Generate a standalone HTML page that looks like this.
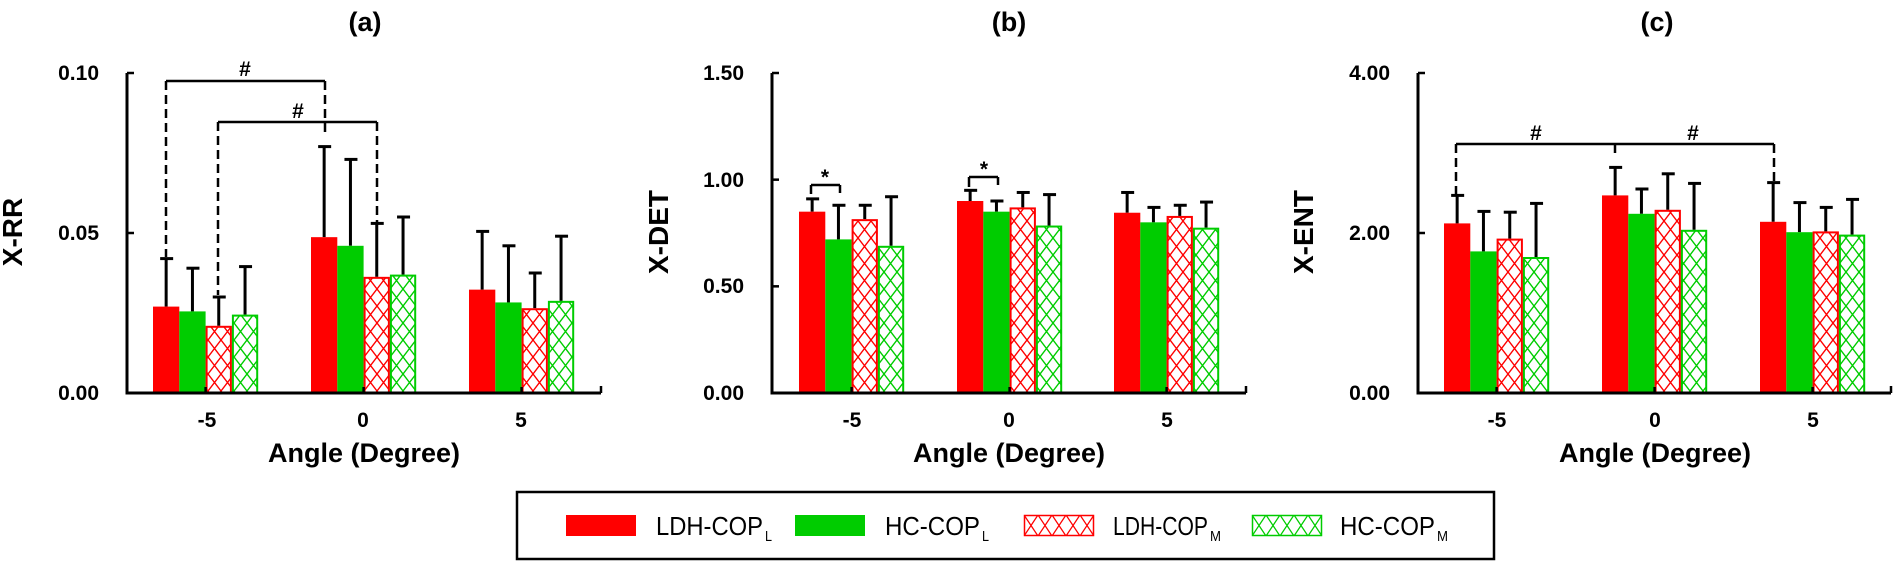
<!DOCTYPE html>
<html><head><meta charset="utf-8"><style>
html,body{margin:0;padding:0;background:#fff;}
svg{display:block;font-family:"Liberation Sans",Arial,sans-serif;font-weight:bold;}
</style></head><body>
<svg id="s" width="1894" height="561" viewBox="0 0 1894 561" xmlns="http://www.w3.org/2000/svg">
<defs>
<pattern id="hr" width="13" height="17" patternUnits="userSpaceOnUse">
<path d="M0,0 L13,17 M13,0 L0,17" stroke="#ff0000" stroke-width="1.4"/>
</pattern>
<pattern id="hg" width="13" height="17" patternUnits="userSpaceOnUse">
<path d="M0,0 L13,17 M13,0 L0,17" stroke="#00cc00" stroke-width="1.4"/>
</pattern>
<pattern id="lr" width="14" height="21" patternUnits="userSpaceOnUse" x="1024" y="515">
<path d="M0,0 L14,21 M14,0 L0,21" stroke="#ff0000" stroke-width="1.3"/>
</pattern>
<pattern id="lg" width="14" height="21" patternUnits="userSpaceOnUse" x="1252" y="515">
<path d="M0,0 L14,21 M14,0 L0,21" stroke="#00cc00" stroke-width="1.3"/>
</pattern>
</defs>
<g id="bars"></g>
<g font-size="27" text-anchor="middle">
<text x="365" y="31">(a)</text>
<text x="1009" y="31">(b)</text>
<text x="1657" y="31">(c)</text>
</g>
<g font-size="21" text-anchor="end">
<text x="99" y="80">0.10</text><text x="99" y="240">0.05</text><text x="99" y="400">0.00</text>
<text x="744" y="80">1.50</text><text x="744" y="187">1.00</text><text x="744" y="293">0.50</text><text x="744" y="400">0.00</text>
<text x="1390" y="80">4.00</text><text x="1390" y="240">2.00</text><text x="1390" y="400">0.00</text>
</g>
<g font-size="28" text-anchor="middle">
<text transform="translate(22,232) rotate(-90)">X-RR</text>
<text transform="translate(668,232) rotate(-90)">X-DET</text>
<text transform="translate(1313,232) rotate(-90)">X-ENT</text>
</g>
<g font-size="21" text-anchor="middle">
<text x="207" y="427">-5</text><text x="363" y="427">0</text><text x="521" y="427">5</text>
<text x="852" y="427">-5</text><text x="1009" y="427">0</text><text x="1167" y="427">5</text>
<text x="1497" y="427">-5</text><text x="1655" y="427">0</text><text x="1813" y="427">5</text>
</g>
<g font-size="27" text-anchor="middle">
<text x="364" y="462">Angle (Degree)</text>
<text x="1009" y="462">Angle (Degree)</text>
<text x="1655" y="462">Angle (Degree)</text>
</g>
<g font-size="21" text-anchor="middle">
<text x="245" y="76">#</text><text x="298" y="118">#</text>
<text x="825" y="184">*</text><text x="984" y="176">*</text>
<text x="1536" y="140">#</text><text x="1693" y="140">#</text>
</g>
<rect x="517" y="492" width="977" height="67" fill="none" stroke="#000" stroke-width="2.5"/>
<rect x="566" y="515" width="70" height="21" fill="#ff0000"/>
<rect x="795" y="515" width="70" height="21" fill="#00cc00"/>
<rect x="1024.5" y="515.5" width="69" height="20" fill="url(#lr)" stroke="#ff0000" stroke-width="1.5"/>
<rect x="1252.5" y="515.5" width="69" height="20" fill="url(#lg)" stroke="#00cc00" stroke-width="1.5"/>
<g font-size="26" font-weight="normal">
<text x="656" y="535" textLength="107" lengthAdjust="spacingAndGlyphs">LDH-COP</text><text x="765" y="541" font-size="15" textLength="7" lengthAdjust="spacingAndGlyphs">L</text>
<text x="885" y="535" textLength="95" lengthAdjust="spacingAndGlyphs">HC-COP</text><text x="982" y="541" font-size="15" textLength="7" lengthAdjust="spacingAndGlyphs">L</text>
<text x="1113" y="535" textLength="95" lengthAdjust="spacingAndGlyphs">LDH-COP</text><text x="1210" y="541" font-size="15" textLength="11" lengthAdjust="spacingAndGlyphs">M</text>
<text x="1340" y="535" textLength="95" lengthAdjust="spacingAndGlyphs">HC-COP</text><text x="1437" y="541" font-size="15" textLength="11" lengthAdjust="spacingAndGlyphs">M</text>
</g>
</svg>
<script>
var g=document.getElementById('bars');var h='';
var y0=393,H=320;
var panels=[
 {ax:127,xe:601,max:0.1,ticks:[0,0.05,0.1],g:[153,311,469],
  v:[[[.027,.042],[.0255,.039],[.021,.030],[.0245,.0395]],[[.0487,.077],[.046,.073],[.0363,.053],[.037,.055]],[[.0323,.0505],[.0283,.046],[.0265,.0375],[.0288,.049]]]},
 {ax:772,xe:1246,max:1.5,ticks:[0,0.5,1,1.5],g:[799,957,1114],
  v:[[[.85,.91],[.72,.88],[.815,.88],[.69,.92]],[[.90,.95],[.85,.90],[.87,.94],[.785,.93]],[[.845,.94],[.80,.87],[.83,.88],[.775,.895]]]},
 {ax:1418,xe:1891,max:4,ticks:[0,2,4],g:[1444,1602,1760],
  v:[[[2.12,2.47],[1.77,2.27],[1.93,2.26],[1.70,2.37]],[[2.47,2.82],[2.24,2.55],[2.29,2.74],[2.04,2.62]],[[2.14,2.63],[2.01,2.38],[2.02,2.32],[1.98,2.42]]]}
];
var bw=26.3;
panels.forEach(function(p){
 function Y(v){return y0-v/p.max*H;}
 p.g.forEach(function(gx,gi){
  p.v[gi].forEach(function(d,k){
   var x=gx+k*bw,y=Y(d[0]),e=Y(d[1]),cx=x+bw/2;
   h+='<line x1="'+cx+'" y1="'+y+'" x2="'+cx+'" y2="'+e+'" stroke="#000" stroke-width="3"/>';
   h+='<line x1="'+(cx-6)+'" y1="'+e+'" x2="'+(cx+7)+'" y2="'+e+'" stroke="#000" stroke-width="3"/>';
   if(k==0)h+='<rect x="'+x+'" y="'+y+'" width="'+bw+'" height="'+(y0-y)+'" fill="#ff0000"/>';
   else if(k==1)h+='<rect x="'+x+'" y="'+y+'" width="'+bw+'" height="'+(y0-y)+'" fill="#00cc00"/>';
   else {var c=k==2?'#ff0000':'#00cc00';h+='<rect x="'+(x+1)+'" y="'+(y+1)+'" width="'+(bw-2)+'" height="'+(y0-y-1)+'" fill="url(#'+(k==2?'hr':'hg')+')" stroke="'+c+'" stroke-width="2"/>';}
  });
  var tc=gx+2*bw;
  h+='<line x1="'+tc+'" y1="'+(y0-6)+'" x2="'+tc+'" y2="'+y0+'" stroke="#000" stroke-width="2.5"/>';
 });
 h+='<line x1="'+p.ax+'" y1="73" x2="'+p.ax+'" y2="'+(y0+1.5)+'" stroke="#000" stroke-width="3"/>';
 h+='<line x1="'+(p.ax-1.5)+'" y1="'+y0+'" x2="'+p.xe+'" y2="'+y0+'" stroke="#000" stroke-width="3"/>';
 h+='<line x1="'+p.xe+'" y1="'+(y0-7)+'" x2="'+p.xe+'" y2="'+y0+'" stroke="#000" stroke-width="2.5"/>';
 p.ticks.forEach(function(t){var y=Y(t);h+='<line x1="'+p.ax+'" y1="'+y+'" x2="'+(p.ax+7)+'" y2="'+y+'" stroke="#000" stroke-width="2.5"/>';});
});
function L(a,b,c,d,dash){h+='<line x1="'+a+'" y1="'+b+'" x2="'+c+'" y2="'+d+'" stroke="#000" stroke-width="2.5"'+(dash?' stroke-dasharray="9,5"':'')+'/>';}
L(166,81,325,81);L(166,81,166,257,1);L(325,81,325,137,1);
L(218,122,377,122);L(218,122,218,295,1);L(377,122,377,222,1);
L(811,185,840,185);L(811,185,811,194);L(840,185,840,193);
L(969,177,998,177);L(969,177,969,187);L(998,177,998,185);
L(1456,144,1774,144);L(1615,144,1615,153);L(1456,144,1456,195,1);L(1774,144,1774,183,1);
g.innerHTML=h;
</script>
</body></html>
